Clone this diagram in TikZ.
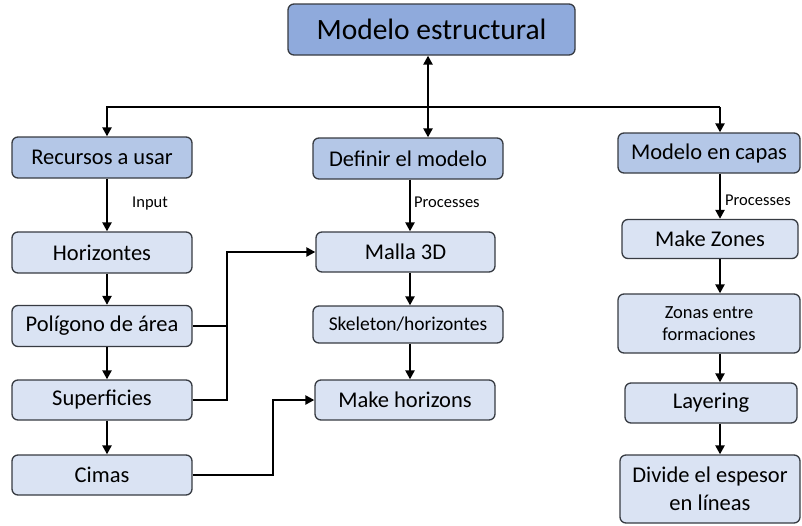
\documentclass[tikz,border=0pt]{standalone}
\usepackage{fontspec}
\setmainfont{Carlito}
\usetikzlibrary{arrows.meta}
\definecolor{topfill}{RGB}{143,170,220}
\definecolor{midfill}{RGB}{180,199,231}
\definecolor{lowfill}{RGB}{218,227,243}
\definecolor{boxline}{RGB}{55,59,66}
\newcommand\caja[7]{\node[#1, minimum width=#5pt, minimum height=#6pt] (#2) at (#3,#4) {#7};}

\begin{document}
\begin{tikzpicture}[x=1pt,y=-1pt,
  box/.style={draw=boxline, line width=1.3pt, rounded corners=6pt, fill=lowfill,
    inner sep=0pt, align=center, font=\fontsize{22.5}{27.5}\selectfont},
  head/.style={box, fill=midfill},
  tip/.tip={Triangle[length=9pt,width=9pt]},
  arr/.style={line width=2.8pt, -tip},
  lnk/.style={line width=2.8pt},
  lbl/.style={inner sep=0pt, anchor=west, font=\fontsize{16.5}{19}\selectfont}]
\useasboundingbox (0,0) rectangle (802,525);
% boxes
\caja{box, fill=topfill, font=\fontsize{29.5}{34}\selectfont}{top}{431.5}{29.5}{287}{51}{Modelo estructural}
\caja{head}{rec}{102}{157.5}{180}{41}{Recursos a usar}
\caja{head}{def}{408}{158.5}{190}{41}{Definir el modelo}
\caja{head}{cap}{709}{153}{182}{40}{Modelo en capas}
\caja{box}{hor}{102}{252.5}{180}{41}{Horizontes}
\caja{box}{pol}{102}{326}{180}{41}{Polígono de área}
\caja{box}{sup}{102}{400}{180}{40}{Superficies}
\caja{box}{cim}{102}{475}{180}{40}{Cimas}
\caja{box}{mal}{405.5}{252}{179}{40}{Malla 3D}
\caja{box, font=\fontsize{19.5}{23}\selectfont}{ske}{408}{324.5}{190}{37}{Skeleton/horizontes}
\caja{box}{mkh}{405}{400}{180}{40}{Make horizons}
\caja{box}{mkz}{710}{239}{176}{39}{Make Zones}
\caja{box, font=\fontsize{18.5}{22}\selectfont}{zon}{709}{323.5}{182}{59}{Zonas entre\\formaciones}
\caja{box}{lay}{711}{403}{172}{40}{Layering}
\caja{box}{div}{710}{489}{180}{68}{Divide el espesor\\en líneas}
% axes of the connectors
\coordinate (lx) at (107,0);
\coordinate (mx) at (410,0);
\coordinate (rx) at (720,0);
\coordinate (tx) at (428,0);
\coordinate (jx) at (227,0);
\coordinate (kx) at (273,0);
\coordinate (bus) at (0,107);
% top level
\draw[line width=2.8pt, tip-tip] (top.south -| tx) -- (def.north -| tx);
\draw[arr] (bus -| rx) -- (bus -| lx) -- (rec.north -| lx);
\draw[arr] (bus -| rx) -- (cap.north -| rx);
% columns
\foreach \a/\b in {rec/hor, hor/pol, pol/sup, sup/cim}
  \draw[arr] (\a.south -| lx) -- (\b.north -| lx);
\foreach \a/\b in {def/mal, mal/ske, ske/mkh}
  \draw[arr] (\a.south -| mx) -- (\b.north -| mx);
\foreach \a/\b in {cap/mkz, mkz/zon, zon/lay, lay/div}
  \draw[arr] (\a.south -| rx) -- (\b.north -| rx);
% cross links
\draw[lnk] (pol.east) -- (pol.east -| jx);
\draw[arr] (sup.east) -| (jx |- mal.west) -- (mal.west);
\draw[arr] (cim.east) -| (kx |- mkh.west) -- (mkh.west);
% labels
\node[lbl] (lin) at (132,204) {Input};
\node[lbl] (lp1) at (414,202) {Processes};
\node[lbl] (lp2) at (725,200) {Processes};
\end{tikzpicture}
\end{document}
